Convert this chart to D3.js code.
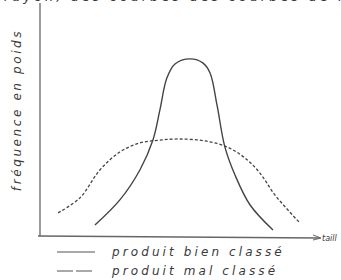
<!DOCTYPE html>
<html>
<head>
<meta charset="utf-8">
<script src="https://cdn.jsdelivr.net/npm/d3@7"></script>
<style>
  body { margin: 0; background: #fff; }
  text { font-family: "DejaVu Sans", sans-serif; font-style: italic; fill: #3a3a3a; }
</style>
</head>
<body>
<div id="chart"></div>
<script>
const W = 341, H = 280;

// taille (arbitrary units) / fréquence en poids (arbitrary units)
const bienTaille = [18.6, 27.2, 34.1, 38.6, 41, 43.4, 46.2, 51.4, 55.9, 58.3, 60.7, 63.4, 66.9, 72.1, 80];
const bienFreq   = [5, 16.4, 30, 43.6, 57.3, 71.8, 78.2, 80.5, 78.6, 74.1, 59.5, 40.5, 27.7, 14.1, 2.7];
const malTaille  = [5.9, 13.4, 20.3, 27.2, 34.1, 41, 47.9, 56.6, 64.1, 70.3, 75.5, 80.7, 89.3];
const malFreq    = [10.5, 17.3, 30, 38.2, 42.3, 43.6, 44.1, 43.2, 40.5, 35.5, 28.6, 18.6, 5.9];
const legendLabels = ["produit bien classé", "produit mal classé"];

const svg = d3.select("#chart").append("svg")
    .attr("width", W)
    .attr("height", H);

const x = d3.scaleLinear().domain([0, 100]).range([41, 331]);
const y = d3.scaleLinear().domain([0, 100]).range([236, 16]);

// cut-off caption line at the very top of the scan
svg.append("text")
    .attr("x", 4)
    .attr("y", 1)
    .attr("font-size", 13)
    .attr("letter-spacing", 3)
    .text("rayon, des courbes des courbes de fréquence");

// axes
svg.append("line")
    .attr("x1", 40).attr("x2", 40)
    .attr("y1", 3).attr("y2", 236)
    .attr("stroke", "#666").attr("stroke-width", 1.3);

svg.append("line")
    .attr("x1", 38).attr("x2", 320)
    .attr("y1", 236).attr("y2", 238)
    .attr("stroke", "#666").attr("stroke-width", 1.3);

svg.append("path")
    .attr("d", "M313,235 L321,238 L313,240")
    .attr("fill", "none").attr("stroke", "#666").attr("stroke-width", 1);

svg.append("text")
    .attr("x", 322).attr("y", 241)
    .attr("font-size", 8)
    .text("taill");

svg.append("text")
    .attr("transform", "translate(21,110) rotate(-90)")
    .attr("text-anchor", "middle")
    .attr("font-size", 12)
    .attr("letter-spacing", 2.6)
    .text("fréquence en poids");

const line = d3.line()
    .x(d => x(d[0]))
    .y(d => y(d[1]))
    .curve(d3.curveCatmullRom.alpha(0.5));

svg.append("path")
    .datum(bienTaille.map((t, i) => [t, bienFreq[i]]))
    .attr("d", line)
    .attr("fill", "none")
    .attr("stroke", "#444")
    .attr("stroke-width", 1.4);

svg.append("path")
    .datum(malTaille.map((t, i) => [t, malFreq[i]]))
    .attr("d", line)
    .attr("fill", "none")
    .attr("stroke", "#444")
    .attr("stroke-width", 1.3)
    .attr("stroke-dasharray", "3,2");

// legend
const legend = svg.append("g");
legendLabels.forEach((lab, i) => {
  const ly = 252 + i * 19;
  legend.append("line")
      .attr("x1", 57).attr("x2", 95)
      .attr("y1", ly).attr("y2", ly)
      .attr("stroke", "#555").attr("stroke-width", 1.2)
      .attr("stroke-dasharray", i === 1 ? "16,3" : null);
  legend.append("text")
      .attr("x", 112).attr("y", ly + 4)
      .attr("font-size", 12)
      .attr("letter-spacing", 3.1)
      .text(lab);
});
</script>
</body>
</html>
